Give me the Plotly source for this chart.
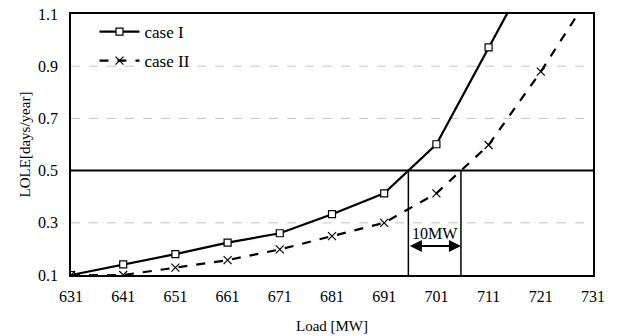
import numpy as np
import plotly.graph_objects as go

load = [631, 641, 651, 661, 671, 681, 691, 701, 711, 721]
case1 = [0.10, 0.141, 0.18, 0.224, 0.26, 0.333, 0.413, 0.601, 0.972, 1.34]
load2 = [631, 641, 651, 661, 671, 681, 691, 701, 711, 721, 731]
case2 = [0.10, 0.10, 0.128, 0.157, 0.198, 0.249, 0.30, 0.413, 0.598, 0.879, 1.19]
x_ticks = list(range(631, 732, 10))
y_ticks = [0.1, 0.3, 0.5, 0.7, 0.9, 1.1]
threshold = 0.5
grid_levels = [0.3, 0.7, 0.9]

x1 = float(np.interp(threshold, case1, load))
x2 = float(np.interp(threshold, case2[1:], load2[1:]))

FONT = "Liberation Serif, Times New Roman, serif"

fig = go.Figure()
fig.add_trace(go.Scatter(
    x=load, y=case1, mode="lines+markers", name="case I", legendgroup="g1",
    line=dict(color="black", width=2.2),
    marker=dict(symbol="square", size=7, color="white", line=dict(color="black", width=1.2)),
    cliponaxis=True,
))
fig.add_trace(go.Scatter(
    x=load2, y=case2, mode="lines+markers", name="case II", legendgroup="g2",
    line=dict(color="black", width=2.2, dash="dash"),
    marker=dict(symbol="x-thin", size=8, color="black", line=dict(color="black", width=1.2)),
    cliponaxis=True,
))

shapes = []
for g in grid_levels:
    shapes.append(dict(type="line", xref="x", yref="y", x0=631, x1=731, y0=g, y1=g,
                       line=dict(color="#c4c4c4", width=1, dash="dash"), layer="below"))
shapes.append(dict(type="line", xref="x", yref="y", x0=631, x1=731, y0=threshold, y1=threshold,
                   line=dict(color="black", width=2)))
for xv in (x1, x2):
    shapes.append(dict(type="line", xref="x", yref="y", x0=xv, x1=xv, y0=0.1, y1=threshold,
                       line=dict(color="black", width=1.5)))

fig.update_layout(
    width=619, height=336,
    margin=dict(l=71, r=26, t=14, b=61, autoexpand=False),
    paper_bgcolor="white", plot_bgcolor="white",
    font=dict(family=FONT, size=16, color="black"),
    shapes=shapes,
    showlegend=True,
    legend=dict(x=0.045, y=1.0, xanchor="left", yanchor="top", bgcolor="rgba(0,0,0,0)",
                font=dict(family=FONT, size=17), itemwidth=40, tracegroupgap=4,
                traceorder="grouped"),
    xaxis=dict(range=[631, 731], tickvals=x_ticks, ticktext=[str(v) for v in x_ticks],
               showgrid=False, zeroline=False, showline=True, linecolor="black", linewidth=1.5,
               mirror=True, ticks="outside", ticklen=6, tickcolor="rgba(0,0,0,0)",
               tickfont=dict(family=FONT, size=16), automargin=False,
               title=dict(text="Load [MW]", font=dict(family=FONT, size=15), standoff=17)),
    yaxis=dict(range=[0.1, 1.1], tickvals=y_ticks, ticktext=["0.1", "0.3", "0.5", "0.7", "0.9", "1.1"],
               showgrid=False, zeroline=False, showline=True, linecolor="black", linewidth=1.5,
               mirror=True, ticks="outside", ticklen=8, tickcolor="rgba(0,0,0,0)",
               tickfont=dict(family=FONT, size=16), automargin=False,
               title=dict(text="LOLE[days/year]", font=dict(family=FONT, size=15), standoff=4)),
)

fig.add_annotation(x=x2, y=0.211, ax=x1, ay=0.211, xref="x", yref="y", axref="x", ayref="y",
                   text="", showarrow=True, arrowhead=2, arrowside="end+start",
                   arrowsize=1.2, arrowwidth=2, arrowcolor="black")
fig.add_annotation(x=(x1 + x2) / 2, y=0.258, xref="x", yref="y", text="10MW", showarrow=False,
                   font=dict(family=FONT, size=16, color="black"))

fig.write_html("out.html")
